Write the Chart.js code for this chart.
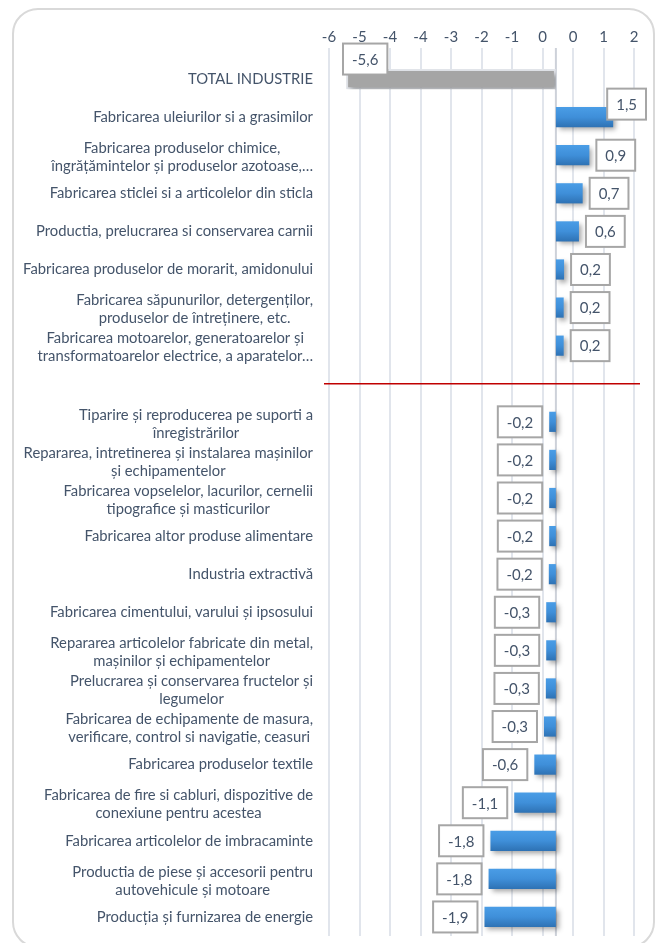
<!DOCTYPE html>
<html>
<head>
<meta charset="utf-8">
<script src="https://cdn.jsdelivr.net/npm/chart.js@4"></script>
<style>
    html, body { margin: 0; padding: 0; background: #ffffff; }
    #wrap { position: relative; width: 659px; height: 943px; overflow: hidden; }
    #frame {
        position: absolute; left: 12px; top: 8px;
        width: 639px; height: 936px;
        border: 2px solid #d9d9d9; border-radius: 26px;
    }
    #chart { position: absolute; left: 0; top: 0; }
</style>
</head>
<body>
<div id="wrap">
    <div id="frame"></div>
    <canvas id="chart" width="659" height="943"></canvas>
</div>
<script>
// ======================================================
// DATA
// ======================================================

const categories = [
    "TOTAL INDUSTRIE",
    "Fabricarea uleiurilor si a grasimilor",
    ["Fabricarea produselor chimice,", "îngrățămintelor și produselor azotoase,…"],
    "Fabricarea sticlei si a articolelor din sticla",
    "Productia, prelucrarea si conservarea carnii",
    "Fabricarea produselor de morarit, amidonului",
    ["Fabricarea săpunurilor, detergenților,", "produselor de întreținere, etc."],
    ["Fabricarea motoarelor, generatoarelor și", "transformatoarelor electrice, a aparatelor…"],
    "",
    ["Tiparire și reproducerea pe suporti a", "înregistrărilor"],
    ["Repararea, intretinerea și instalarea mașinilor", "și echipamentelor"],
    ["Fabricarea vopselelor, lacurilor, cernelii", "tipografice și masticurilor"],
    "Fabricarea altor produse alimentare",
    "Industria extractivă",
    "Fabricarea cimentului, varului și ipsosului",
    ["Repararea articolelor fabricate din metal,", "mașinilor și echipamentelor"],
    ["Prelucrarea și conservarea fructelor și", "legumelor"],
    ["Fabricarea de echipamente de masura,", "verificare, control si navigatie, ceasuri"],
    "Fabricarea produselor textile",
    ["Fabricarea de fire si cabluri, dispozitive de", "conexiune pentru acestea"],
    "Fabricarea articolelor de imbracaminte",
    ["Productia de piese și accesorii pentru", "autovehicule și motoare"],
    "Producția și furnizarea de energie"
];

const values = [
    -5.64,
    1.54, 0.9, 0.72, 0.62, 0.22, 0.21, 0.21,
    null,
    -0.18, -0.18, -0.18, -0.18, -0.19,
    -0.26, -0.26, -0.27, -0.32,
    -0.58, -1.12, -1.76, -1.81, -1.92
];

// the odd Excel axis: unit 0.82 with labels rounded to integers
const xTicks = [-6.1, -5.28, -4.46, -3.64, -2.82, -2, -1.18, -0.36, 0.46, 1.28, 2.1];
const xTickLabels = ["-6", "-5", "-4", "-4", "-3", "-2", "-1", "0", "0", "1", "2"];

// ======================================================
// STYLE
// ======================================================

const textColor = "#44546a";
const fontFamily = "Lato, 'Open Sans', sans-serif";
const labelFont = "14.8px Lato, sans-serif";

function formatValue(v) {
    return v.toFixed(1).replace(".", ",");
}

function isTotal(index) {
    return index === 0;
}

// ======================================================
// BAR FILL (gradient per bar)
// ======================================================

function barFill(ctx) {

    if (isTotal(ctx.dataIndex)) return "#a5a5a5";

    const yScale = ctx.chart.scales.y;
    if (!yScale) return "#3d8ad6";

    const cy = yScale.getPixelForValue(ctx.dataIndex);
    const g = ctx.chart.ctx.createLinearGradient(0, cy - 10, 0, cy + 10);
    g.addColorStop(0, "#4a9de6");
    g.addColorStop(0.5, "#3f8fd9");
    g.addColorStop(1, "#2e72b4");
    return g;
}

// ======================================================
// PLUGIN: shadows, lines, labels
// ======================================================

const decorPlugin = {

    id: "decor",

    beforeDatasetsDraw(chart) {

        const c = chart.ctx;
        const area = chart.chartArea;
        const x0 = chart.scales.x.getPixelForValue(0);

        // zero axis line
        c.save();
        c.strokeStyle = "#cdd1d9";
        c.lineWidth = 2;
        c.beginPath();
        c.moveTo(x0, area.top - 12);
        c.lineTo(x0, area.bottom);
        c.stroke();
        c.restore();

        // bar shadows
        c.save();
        c.shadowColor = "rgba(0,0,0,0.35)";
        c.shadowBlur = 5;
        c.shadowOffsetX = 3;
        c.shadowOffsetY = 3;
    },

    afterDatasetsDraw(chart) {

        const c = chart.ctx;
        c.restore();

        const area = chart.chartArea;
        const yScale = chart.scales.y;
        const meta = chart.getDatasetMeta(0);

        // red separator on the empty category
        const sep = categories.indexOf("");
        const ys = yScale.getPixelForValue(sep);
        c.save();
        c.strokeStyle = "#c00000";
        c.lineWidth = 1.5;
        c.beginPath();
        c.moveTo(area.left - 5, ys);
        c.lineTo(area.right + 6, ys);
        c.stroke();
        c.restore();

        // category labels: block right aligned, lines centred
        c.save();
        c.font = labelFont;
        c.fillStyle = textColor;
        c.textAlign = "center";
        c.textBaseline = "middle";

        const rightEdge = area.left - 16;

        categories.forEach((label, i) => {

            const lines = Array.isArray(label) ? label : [label];
            if (lines[0] === "") return;

            const maxW = Math.max(...lines.map(l => c.measureText(l).width));
            const cx = rightEdge - maxW / 2;
            const cy = yScale.getPixelForValue(i) + (lines.length > 1 ? 2 : 0);
            const lh = 18;

            lines.forEach((l, k) => {
                c.fillText(l, cx, cy + (k - (lines.length - 1) / 2) * lh);
            });
        });
        c.restore();

        // value boxes
        c.save();
        c.font = "15px " + fontFamily;
        c.textAlign = "center";
        c.textBaseline = "middle";

        meta.data.forEach((bar, i) => {

            const v = values[i];
            if (v === null) return;

            const txt = formatValue(v);
            const w = c.measureText(txt).width + 18;
            const h = 31;
            let bx;
            let cy = bar.y;

            if (v >= 0) {
                bx = bar.x + 7;
                if (bx + w > area.right + 12) {
                    bx = area.right + 12 - w;
                    cy = bar.y - 13;
                }
            } else {
                bx = bar.x - 7 - w;
                if (bx < area.left) {
                    bx = area.left + 14;
                    cy = bar.y - 20;
                }
            }

            c.fillStyle = "#ffffff";
            c.fillRect(bx, cy - h / 2, w, h);
            c.strokeStyle = "#a6a6a6";
            c.lineWidth = 2;
            c.strokeRect(bx, cy - h / 2, w, h);

            c.fillStyle = textColor;
            c.fillText(txt, bx + w / 2, cy + 1);
        });
        c.restore();
    }
};

// ======================================================
// CHART
// ======================================================

new Chart(document.getElementById("chart"), {

    type: "bar",

    data: {
        labels: categories,
        datasets: [{
            data: values,
            backgroundColor: barFill,
            borderColor: (ctx) => isTotal(ctx.dataIndex) ? "#e3e6eb" : "rgba(0,0,0,0)",
            borderWidth: (ctx) => isTotal(ctx.dataIndex) ? 2 : 0,
            borderSkipped: false,
            barPercentage: 0.53,
            categoryPercentage: 1
        }]
    },

    options: {
        indexAxis: "y",
        responsive: false,
        animation: false,
        layout: {
            padding: { left: 329, right: 25, top: 26, bottom: 7 }
        },
        plugins: {
            legend: { display: false },
            tooltip: { enabled: false }
        },
        scales: {
            x: {
                position: "top",
                min: -6.1,
                max: 2.1,
                afterBuildTicks(scale) {
                    scale.ticks = xTicks.map(v => ({ value: v }));
                },
                ticks: {
                    color: textColor,
                    font: { family: fontFamily, size: 15 },
                    padding: 2,
                    maxRotation: 0,
                    autoSkip: false,
                    callback: (value, index) => xTickLabels[index]
                },
                grid: {
                    color: "#e1e5ec",
                    lineWidth: 2,
                    tickLength: 12
                },
                border: { display: false }
            },
            y: {
                display: false,
                offset: true
            }
        }
    },

    plugins: [decorPlugin]
});
</script>
</body>
</html>
